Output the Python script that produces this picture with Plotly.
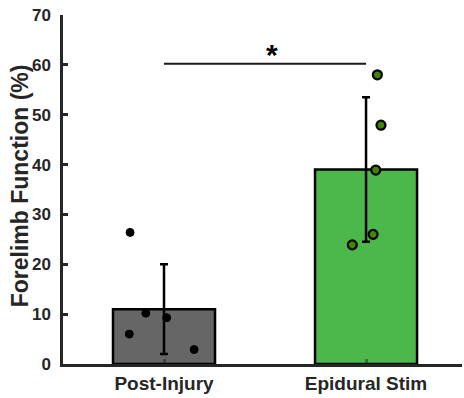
import plotly.graph_objects as go

categories = ["Post-Injury", "Epidural Stim"]
means = [11.0, 39.0]
errors = [9.0, 14.5]
pi_vals = [26.4, 10.2, 6.0, 9.3, 2.9]
pi_jitter = [-0.168, -0.09, -0.172, 0.013, 0.149]
es_vals = [58.0, 47.9, 38.9, 26.0, 23.9]
es_jitter = [0.056, 0.074, 0.048, 0.035, -0.068]
y_ticks = [0, 10, 20, 30, 40, 50, 60, 70]
sig_y = 60.2
sig_label = "*"
y_title = "Forelimb Function (%)"

bar_colors = ["#666666", "#4cb84c"]
axis_col = "#262626"
font_family = "Liberation Sans, Arial, sans-serif"

xpos = list(range(len(categories)))

fig = go.Figure()
fig.add_trace(go.Bar(
    x=xpos, y=means, width=0.505,
    marker=dict(color=bar_colors, line=dict(color="black", width=2.5)),
    showlegend=False,
))
fig.add_trace(go.Scatter(
    x=xpos, y=means, mode="markers",
    marker=dict(size=1, color="rgba(0,0,0,0)"),
    error_y=dict(type="data", array=errors, visible=True,
                 color="black", thickness=2.5, width=4),
    showlegend=False,
))
fig.add_trace(go.Scatter(
    x=[xpos[0] + j for j in pi_jitter], y=pi_vals, mode="markers",
    marker=dict(size=8, color="black", line=dict(color="black", width=1)),
    showlegend=False,
))
fig.add_trace(go.Scatter(
    x=[xpos[1] + j for j in es_jitter], y=es_vals, mode="markers",
    marker=dict(size=9, color="#3f8500", line=dict(color="black", width=2.2)),
    showlegend=False,
))
fig.add_trace(go.Scatter(
    x=[xpos[0], xpos[1]], y=[sig_y, sig_y], mode="lines",
    line=dict(color="#1a1a1a", width=2), showlegend=False, hoverinfo="skip",
))
fig.add_annotation(
    x=0.533, y=sig_y + 1.9, text="<b>" + sig_label + "</b>", showarrow=False,
    yanchor="middle", font=dict(size=30, color="black", family=font_family),
)
fig.add_annotation(
    xref="paper", yref="paper", x=-0.107, y=0.51, textangle=-90,
    text="<b>" + y_title + "</b>", showarrow=False,
    xanchor="center", yanchor="middle",
    font=dict(size=23, color=axis_col, family=font_family),
)

fig.update_layout(
    width=464, height=398,
    margin=dict(l=63, r=2, t=15, b=34),
    plot_bgcolor="white", paper_bgcolor="white",
    font=dict(family=font_family, color=axis_col),
    xaxis=dict(
        range=[-0.5, 1.475], tickvals=xpos,
        ticktext=["<b>" + c + "</b>" for c in categories],
        tickfont=dict(size=19, color=axis_col, family=font_family),
        showline=True, linecolor=axis_col, linewidth=2.5,
        ticks="inside", ticklen=5, tickwidth=2.5, tickcolor="rgba(0,0,0,0.35)",
        showgrid=False, zeroline=False,
    ),
    yaxis=dict(
        range=[0, 70], tickvals=y_ticks,
        ticktext=["<b>%d</b>" % v for v in y_ticks],
        tickfont=dict(size=17, color=axis_col, family=font_family),
        showline=True, linecolor=axis_col, linewidth=2.5,
        ticks="inside", ticklen=5, tickwidth=2.5, tickcolor=axis_col,
        ticklabelstandoff=6,
        showgrid=False, zeroline=False,
    ),
)

fig.write_html("out.html")
